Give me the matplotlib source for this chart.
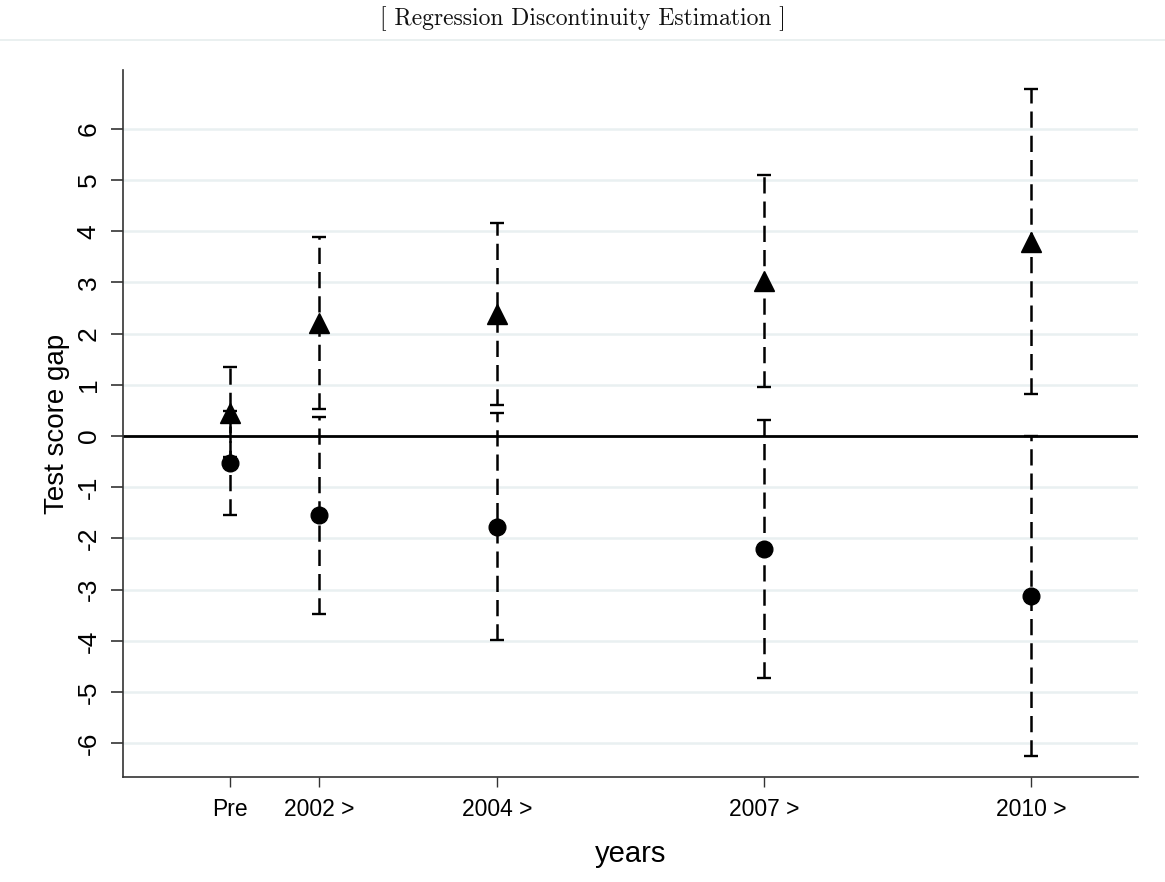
import numpy as np
import matplotlib.pyplot as plt
from matplotlib.lines import Line2D

# Datos
years = [2001, 2002, 2004, 2007, 2010]
tick_labels = ['Pre', '2002 >', '2004 >', '2007 >', '2010 >']

tri_est = [0.45, 2.20, 2.39, 3.02, 3.80]
tri_lo = [-0.40, 0.52, 0.60, 0.95, 0.82]
tri_hi = [1.35, 3.88, 4.17, 5.10, 6.78]

dot_est = [-0.53, -1.55, -1.78, -2.20, -3.13]
dot_lo = [-1.55, -3.48, -3.98, -4.72, -6.25]
dot_hi = [0.49, 0.38, 0.45, 0.32, 0.00]

yticks = list(range(-6, 7))

plt.rcParams['axes.unicode_minus'] = False
plt.rcParams['font.family'] = ['Liberation Sans', 'DejaVu Sans']

fig = plt.figure(figsize=(11.65, 8.82), dpi=100)
ax = fig.add_axes([0.1056, 0.119, 0.8712, 0.8016])

# titulo y linea gris debajo
fig.text(0.5, 0.979, '[ Regression Discontinuity Estimation ]', ha='center', va='center',
         fontsize=17, family='cmr10', color='#111111')
fig.add_artist(Line2D([0, 1], [0.955, 0.955], transform=fig.transFigure,
                      color='#e6eded', lw=1.2))

# grid horizontal
for v in yticks:
    ax.axhline(v, color='#e9f0f1', lw=1.8, zorder=0)
ax.axhline(0, color='black', lw=2.0, zorder=1)

# intervalos de confianza con linea discontinua
def draw_ci(est, lo, hi, marker, ms):
    est = np.array(est)
    err = [est - np.array(lo), np.array(hi) - est]
    eb = ax.errorbar(years, est, yerr=err, fmt='none', ecolor='black',
                     elinewidth=1.8, capsize=5, capthick=1.7, zorder=2)
    eb[2][0].set_linestyle((0, (6.5, 3.2)))
    ax.plot(years, est, linestyle='none', marker=marker, ms=ms,
            color='black', zorder=3)

draw_ci(tri_est, tri_lo, tri_hi, '^', 14)
draw_ci(dot_est, dot_lo, dot_hi, 'o', 12)

ax.set_xlim(1999.8, 2011.2)
ax.set_ylim(-6.66, 7.15)
ax.set_xticks(years)
ax.set_xticklabels(tick_labels)
ax.set_yticks(yticks)

for s in ['top', 'right']:
    ax.spines[s].set_visible(False)
for s in ['left', 'bottom']:
    ax.spines[s].set_color('#333333')
    ax.spines[s].set_linewidth(1.2)

ax.tick_params(axis='y', labelrotation=90, length=9, width=1.2, pad=7,
               labelsize=19, color='#333333')
ax.tick_params(axis='x', length=7, width=1.0, pad=8, labelsize=16.5,
               color='#333333')
for lab in ax.get_yticklabels():
    lab.set_va('center')

ax.set_ylabel('Test score gap', fontsize=20, labelpad=5)
ax.set_xlabel('years', fontsize=21, labelpad=14)

fig.savefig('out.png', dpi=100)
